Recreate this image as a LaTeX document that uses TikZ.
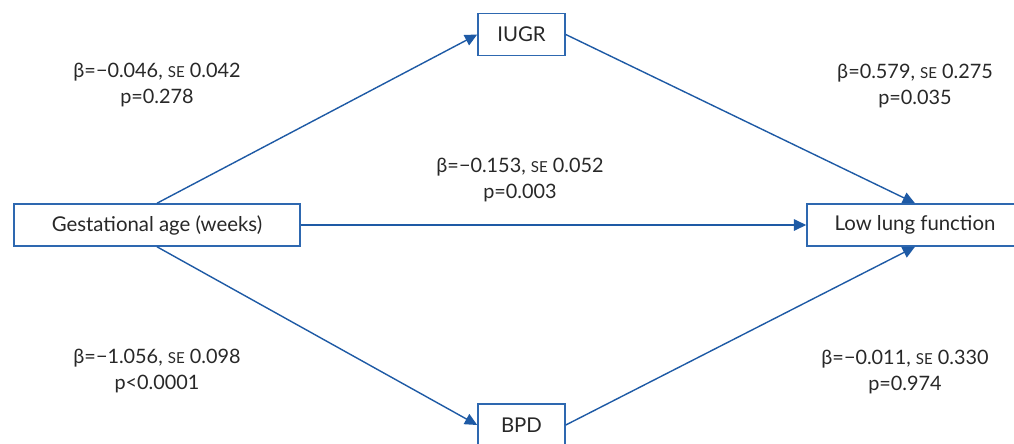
\documentclass[tikz,border=0pt]{standalone}
\usepackage{fontspec}
\setmainfont{Lato}
\usepackage{xcolor}
\definecolor{pathblue}{RGB}{30,90,165}
\definecolor{boxblue}{RGB}{46,104,176}
\definecolor{txtgray}{RGB}{40,40,40}
\usetikzlibrary{arrows.meta}
% small caps stand-in for SE
\newcommand{\sesc}{{\fontsize{8.6}{10}\selectfont SE}}

\begin{document}
\begin{tikzpicture}[x=0.02cm, y=-0.02cm,
  varbox/.style={draw=boxblue, line width=0.9pt, fill=white, text=txtgray,
    font=\fontsize{11.6}{14}\selectfont, minimum height=0.84cm, inner sep=0pt},
  path/.style={draw=pathblue, line width=0.8pt, -{Triangle[length=7pt,width=6.5pt]}},
  coef/.style={text=txtgray, align=center, font=\fontsize{11.3}{15.2}\selectfont}]
  \useasboundingbox (0,0) rectangle (1014,443);

  % variables
  \node[varbox, minimum width=5.72cm] (gest) at (157,225) {Gestational age (weeks)};
  \node[varbox, minimum width=1.74cm] (iugr) at (521.5,34.5) {IUGR};
  \node[varbox, minimum width=1.74cm] (bpd)  at (521.5,425) {BPD};
  \node[varbox, minimum width=4.32cm] (lung) at (915,225) {Low lung function};

  % paths
  \draw[path] (gest.north) -- (iugr.west);
  \draw[path] (iugr.east) -- (lung.north);
  \draw[path] (gest.east) -- (lung.west);
  \draw[path] (gest.south) -- (bpd.west);
  \draw[path] (bpd.east) -- (lung.south);

  % coefficients
  \node[coef] (c1) at (157,85)  {β=−0.046, \sesc{} 0.042\\p=0.278};
  \node[coef] (c2) at (915,86)  {β=0.579, \sesc{} 0.275\\p=0.035};
  \node[coef] (c3) at (520,180) {β=−0.153, \sesc{} 0.052\\p=0.003};
  \node[coef] (c4) at (157,371) {β=−1.056, \sesc{} 0.098\\p<0.0001};
  \node[coef] (c5) at (905,372) {β=−0.011, \sesc{} 0.330\\p=0.974};
\end{tikzpicture}
\end{document}
